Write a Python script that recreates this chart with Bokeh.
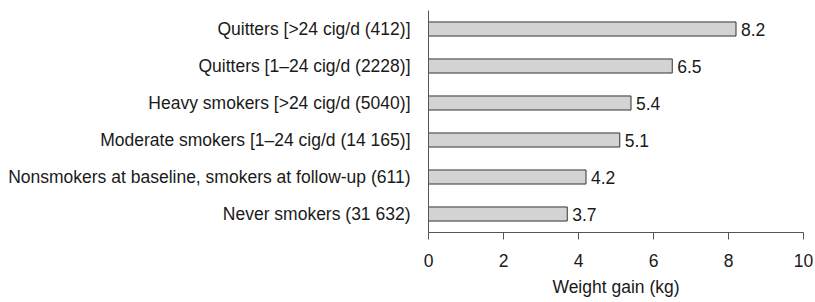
from bokeh.plotting import figure
from bokeh.models import ColumnDataSource, FactorRange, Range1d, FixedTicker
from bokeh.core.properties import value
from bokeh.embed import file_html
from bokeh.resources import INLINE

categories = [
    "Quitters [>24 cig/d (412)]",
    "Quitters [1\u201324 cig/d (2228)]",
    "Heavy smokers [>24 cig/d (5040)]",
    "Moderate smokers [1\u201324 cig/d (14 165)]",
    "Nonsmokers at baseline, smokers at follow-up (611)",
    "Never smokers (31 632)",
]
weight_gain = [8.2, 6.5, 5.4, 5.1, 4.2, 3.7]
x_ticks = [0, 2, 4, 6, 8, 10]

FONT = "Liberation Sans"
FS = "17.5px"

src = ColumnDataSource(dict(
    cat=categories,
    val=weight_gain,
    lab=[f"{v:.1f}" for v in weight_gain],
))

p = figure(
    y_range=FactorRange(*list(reversed(categories)), range_padding=0),
    x_range=Range1d(0, 10),
    frame_width=375, frame_height=222,
    min_border_left=428, min_border_top=10, min_border_right=10, min_border_bottom=66,
    output_backend="svg", toolbar_location=None,
)
p.outline_line_color = None
p.xgrid.grid_line_color = None
p.ygrid.grid_line_color = None
p.background_fill_color = "white"

p.hbar(y="cat", left=0, right="val", height=0.38, source=src,
       fill_color="#d3d3d3", line_color="#333333", line_width=1)
p.text(x="val", y="cat", text="lab", source=src, x_offset=5,
       text_baseline="middle", text_align="left",
       text_font=value(FONT), text_font_size=FS, text_color="#1a1a1a")

xa = p.xaxis[0]
xa.ticker = FixedTicker(ticks=x_ticks)
xa.minor_tick_line_color = None
xa.major_tick_out = 7
xa.major_tick_in = 0
xa.axis_line_color = "#555555"
xa.major_tick_line_color = "#555555"
xa.major_label_text_font = FONT
xa.major_label_text_font_size = FS
xa.major_label_text_color = "#1a1a1a"
xa.major_label_standoff = 14
xa.axis_label = "Weight gain (kg)"
xa.axis_label_text_font = FONT
xa.axis_label_text_font_size = FS
xa.axis_label_text_font_style = "normal"
xa.axis_label_text_color = "#1a1a1a"
xa.axis_label_standoff = 7

ya = p.yaxis[0]
ya.major_tick_out = 0
ya.major_tick_in = 0
ya.minor_tick_line_color = None
ya.axis_line_color = "#555555"
ya.major_label_text_font = FONT
ya.major_label_text_font_size = FS
ya.major_label_text_color = "#1a1a1a"
ya.major_label_standoff = 18

open("out.html", "w").write(file_html(p, INLINE))
